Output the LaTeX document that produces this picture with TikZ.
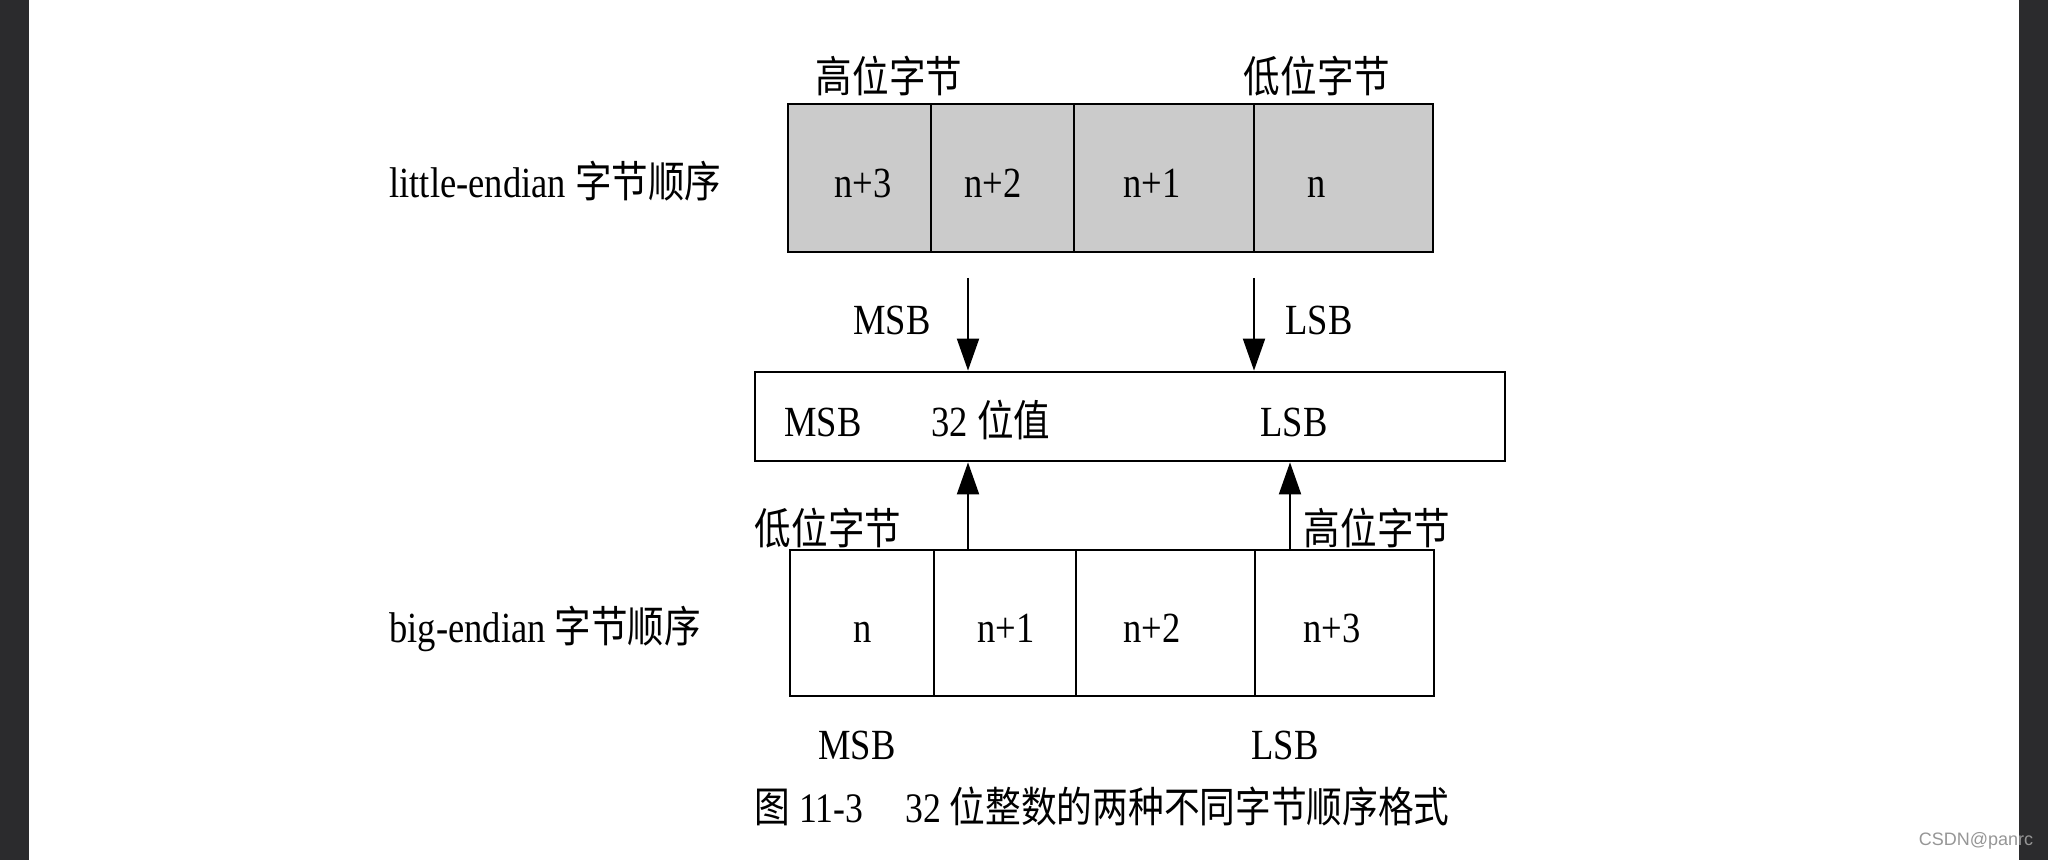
\documentclass[tikz,border=0pt]{standalone}
\usepackage{fontspec}
\setmainfont{Liberation Serif}[FakeStretch=0.85]
\newfontfamily\cjk{Noto Sans CJK SC}[FakeStretch=0.85]
\newfontfamily\wmfont{Liberation Sans}
\usetikzlibrary{arrows.meta}
\definecolor{cellgray}{RGB}{203,203,203}
\definecolor{darkband}{RGB}{43,43,45}
\definecolor{wmgray}{RGB}{150,150,150}
\begin{document}
\begin{tikzpicture}[x=0.5pt,y=-0.5pt,
  txt/.style={font=\fontsize{21.5}{25}\selectfont, inner sep=0pt, text height=0.7em, text depth=0.2em, yshift=-5pt},
  cellbox/.style={draw, line width=1.4pt, inner sep=0pt},
  arr/.style={line width=1pt, -{Triangle[length=16pt,width=11pt]}}]
\useasboundingbox (0,0) rectangle (2048,860);
\fill[white] (0,0) rectangle (2048,860);
\fill[darkband] (0,0) rectangle (29,860);
\fill[darkband] (2019,0) rectangle (2048,860);

% little-endian row
\node[txt, anchor=west] (le) at (389,183) {little-endian {\cjk 字节顺序}};
\node[txt] (hiT) at (889,78) {\cjk 高位字节};
\node[txt] (loT) at (1317,78) {\cjk 低位字节};
\node[cellbox, fill=cellgray, minimum width=71.5pt, minimum height=74pt] (c1) at (859.5,178) {};
\node[cellbox, fill=cellgray, minimum width=71.5pt, minimum height=74pt] (c2) at (1002.5,178) {};
\node[cellbox, fill=cellgray, minimum width=90pt, minimum height=74pt] (c3) at (1164,178) {};
\node[cellbox, fill=cellgray, minimum width=89.5pt, minimum height=74pt] (c4) at (1343.5,178) {};
\node[txt] (t1) at (863,183) {n+3};
\node[txt] (t2) at (993,183) {n+2};
\node[txt] (t3) at (1152,183) {n+1};
\node[txt] (t4) at (1317,183) {n};

% middle box
\node[cellbox, minimum width=375pt, minimum height=44.5pt] (mid) at (1130,416.5) {};
\node[txt] (mmsb) at (823,422) {MSB};
\node[txt] (mval) at (991,422) {32 {\cjk 位值}};
\node[txt] (mlsb) at (1294,422) {LSB};

% arrows from top
\coordinate (s1) at (968,278);
\coordinate (s2) at (1254,278);
\draw[arr] (s1) -- (s1 |- mid.north);
\draw[arr] (s2) -- (s2 |- mid.north);
\node[txt] (amsb) at (892,320) {MSB};
\node[txt] (alsb) at (1319,320) {LSB};

% big-endian row
\node[txt, anchor=west] (be) at (389,627) {big-endian {\cjk 字节顺序}};
\node[txt] (loB) at (828,529) {\cjk 低位字节};
\node[txt] (hiB) at (1377,529) {\cjk 高位字节};
\node[cellbox, minimum width=72pt, minimum height=73pt] (d1) at (862,623) {};
\node[cellbox, minimum width=71pt, minimum height=73pt] (d2) at (1005,623) {};
\node[cellbox, minimum width=89.5pt, minimum height=73pt] (d3) at (1165.5,623) {};
\node[cellbox, minimum width=89.5pt, minimum height=73pt] (d4) at (1344.5,623) {};
\node[txt] (b1) at (863,627) {n};
\node[txt] (b2) at (1006,627) {n+1};
\node[txt] (b3) at (1152,627) {n+2};
\node[txt] (b4) at (1332,627) {n+3};

% arrows from bottom
\coordinate (x1) at (968,0);
\coordinate (x2) at (1290,0);
\draw[arr] (d2.north -| x1) -- (mid.south -| x1);
\draw[arr] (d4.north -| x2) -- (mid.south -| x2);

\node[txt] (bmsb) at (857,744) {MSB};
\node[txt] (blsb) at (1285,744) {LSB};

% caption
\node[txt, font=\fontsize{21}{25}\selectfont] (cap) at (1102,807) {{\cjk 图} 11-3\quad 32 {\cjk 位整数的两种不同字节顺序格式}};

% watermark
\node[inner sep=0pt, text=wmgray, font=\wmfont\fontsize{9}{11}\selectfont] (wm) at (1976,841) {CSDN@panrc};
\end{tikzpicture}
\end{document}
